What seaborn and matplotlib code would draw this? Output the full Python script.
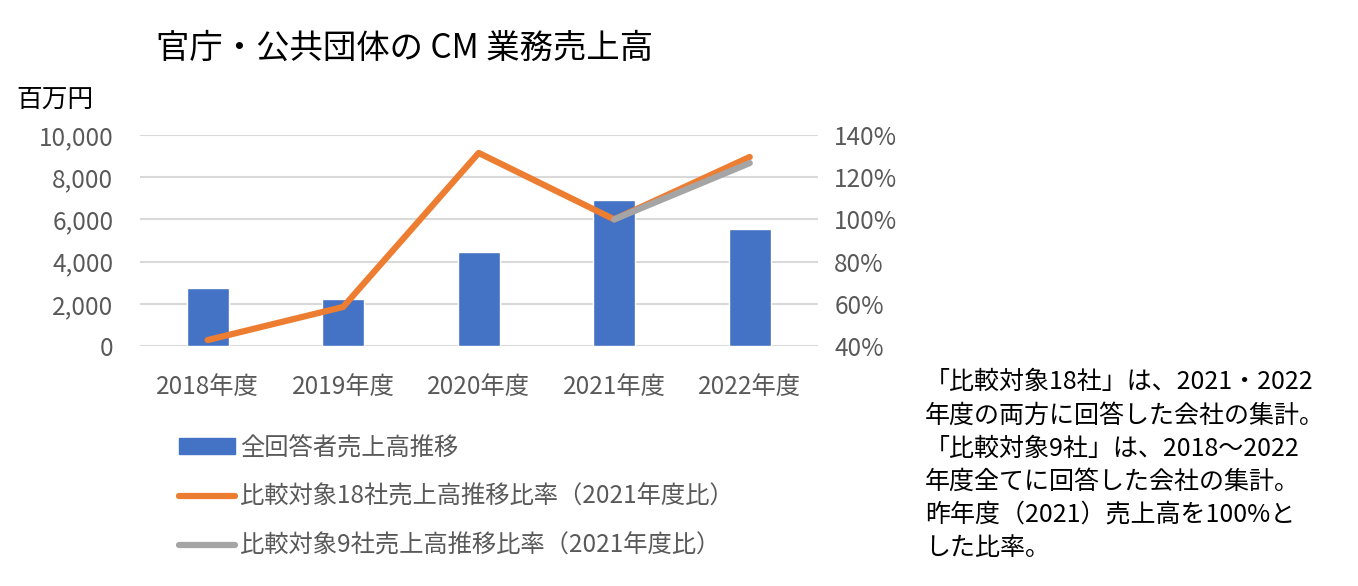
import numpy as np
import pandas as pd
import matplotlib
matplotlib.use("Agg")
import matplotlib.pyplot as plt
import seaborn as sns
from matplotlib.patches import Patch
from matplotlib.lines import Line2D

years = ["2018年度", "2019年度", "2020年度", "2021年度", "2022年度"]
sales = [2750, 2230, 4450, 6920, 5545]
ratio18 = [0.428, 0.585, 1.315, 1.00, 1.296]
ratio9 = [np.nan, np.nan, np.nan, 1.00, 1.267]
left_ticks = [0, 2000, 4000, 6000, 8000, 10000]
right_ticks = [0.4, 0.6, 0.8, 1.0, 1.2, 1.4]

title = "官庁・公共団体の CM 業務売上高"
unit = "百万円"
labels = ["全回答者売上高推移", "比較対象18社売上高推移比率（2021年度比）", "比較対象9社売上高推移比率（2021年度比）"]
note = ("「比較対象18社」は、2021・2022\n年度の両方に回答した会社の集計。\n"
        "「比較対象9社」は、2018～2022\n年度全てに回答した会社の集計。\n"
        "昨年度（2021）売上高を100%と\nした比率。")

BLUE = "#4472C4"
ORANGE = "#ED7D31"
GRAY = "#A5A5A5"
TXT = "#595959"

sns.set_theme(style="white")
plt.rcParams['font.family'] = ['Noto Sans CJK JP', 'DejaVu Sans']

fig = plt.figure(figsize=(13.58, 5.86), dpi=100)
ax = fig.add_axes([0.103, 0.4096, 0.499, 0.36])

df = pd.DataFrame({"year": years, "sales": sales, "r18": ratio18, "r9": ratio9})
df["pos"] = np.arange(len(years))

sns.barplot(data=df, x="year", y="sales", color=BLUE, width=0.31, saturation=1, ax=ax, zorder=2)
ax.set_ylim(0, 10000)
ax.set_yticks(left_ticks)
ax.set_yticklabels([f"{v:,}" for v in left_ticks])
ax.set_xlim(-0.5, len(years) - 0.5)
ax.yaxis.grid(True, color="#D9D9D9", linewidth=1.5, zorder=0)
ax.set_axisbelow(True)
for s in ax.spines.values():
    s.set_visible(False)
ax.set_xlabel("")
ax.set_ylabel("")
ax.tick_params(axis="both", length=0, labelsize=17.5, colors=TXT)
ax.tick_params(axis="x", pad=20)
ax.tick_params(axis="y", pad=19)

ax2 = ax.twinx()
sns.lineplot(x=df["pos"], y=df["r18"], color=ORANGE, linewidth=4.5, ax=ax2, zorder=3)
sns.lineplot(x=df["pos"], y=df["r9"], color=GRAY, linewidth=4.5, ax=ax2, zorder=4)
ax2.set_ylim(0.4, 1.4)
ax2.set_yticks(right_ticks)
ax2.set_yticklabels([f"{int(round(v*100))}%" for v in right_ticks])
ax2.set_xlim(-0.5, len(years) - 0.5)
for s in ax2.spines.values():
    s.set_visible(False)
ax2.set_ylabel("")
ax2.set_xlabel("")
ax2.grid(False)
ax2.tick_params(axis="y", length=0, labelsize=17.5, colors=TXT, pad=12)

fig.text(0.115, 0.918, title, fontsize=24, color="black", ha="left", va="center")
fig.text(0.012, 0.83, unit, fontsize=18.5, color="black", ha="left", va="center")

handles = [Patch(facecolor=BLUE, edgecolor=BLUE),
           Line2D([], [], color=ORANGE, linewidth=4.5),
           Line2D([], [], color=GRAY, linewidth=4.5)]
leg = fig.legend(handles, labels, loc="upper left", bbox_to_anchor=(0.125, 0.275),
                 frameon=False, fontsize=17.5, handlelength=2.3, handleheight=0.6,
                 labelspacing=0.95, handletextpad=0.2, borderaxespad=0)
for t in leg.get_texts():
    t.set_color(TXT)

fig.text(0.681, 0.37, note, fontsize=18, color="black", ha="left", va="top", linespacing=1.36)

fig.savefig("out.png", dpi=100)
